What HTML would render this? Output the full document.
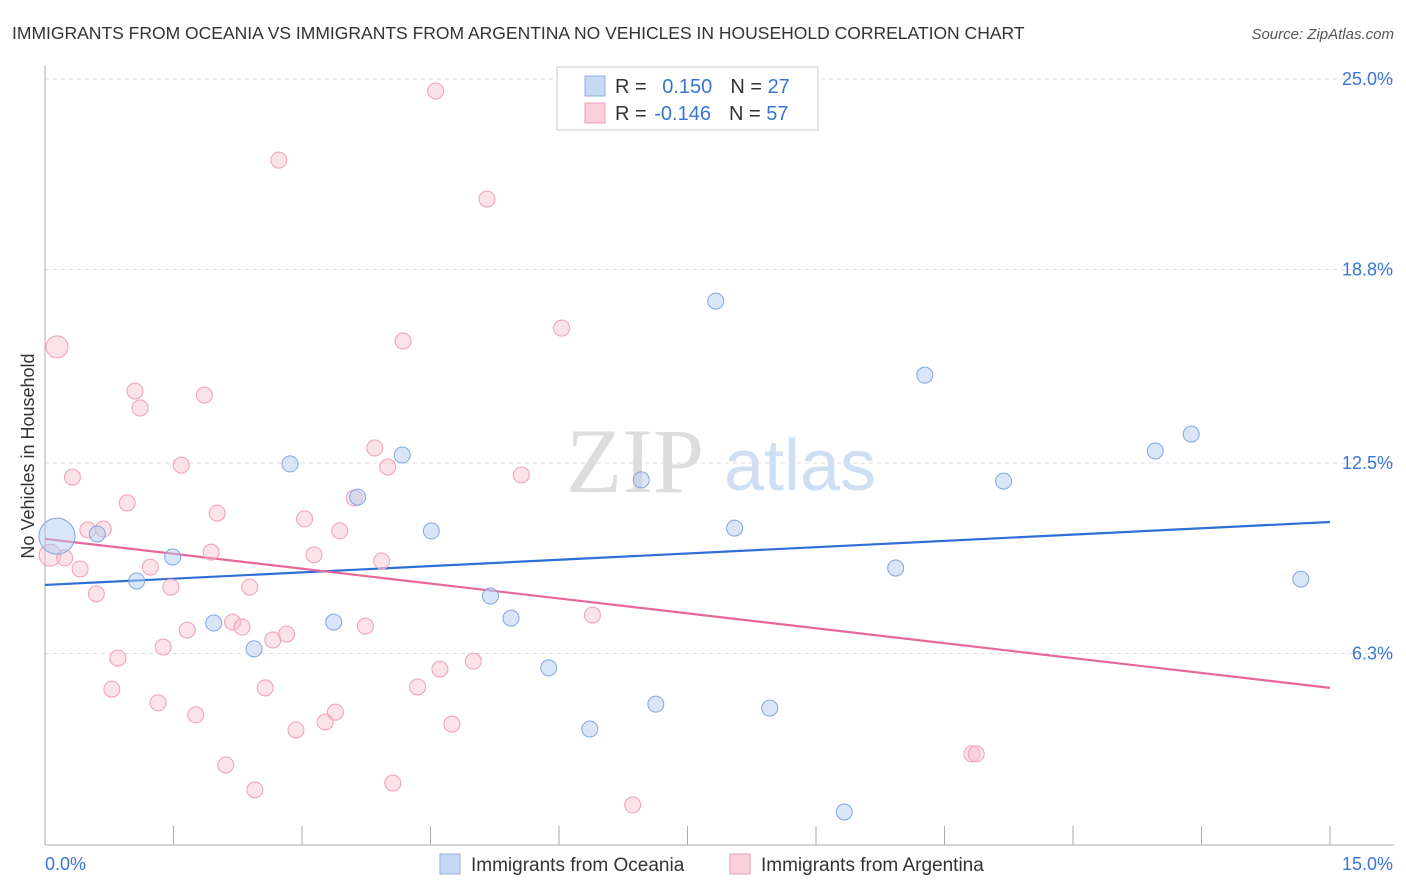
<!DOCTYPE html>
<html><head><meta charset="utf-8"><style>
body{margin:0;background:#fff;font-family:"Liberation Sans",sans-serif}
svg{display:block}
</style></head><body>
<svg width="1406" height="892" id="chart">
<text x="12" y="39" font-size="17.5" fill="#333">IMMIGRANTS FROM OCEANIA VS IMMIGRANTS FROM ARGENTINA NO VEHICLES IN HOUSEHOLD CORRELATION CHART</text>
<text x="1394" y="39" font-size="15" fill="#555" font-style="italic" text-anchor="end">Source: ZipAtlas.com</text>
<text x="0" y="0" transform="translate(34,456) rotate(-90)" font-size="18" fill="#333" text-anchor="middle">No Vehicles in Household</text>
<g><text x="635" y="492" font-size="92" fill="#ddd" font-family="Liberation Serif,serif" text-anchor="middle">ZIP</text><text x="800" y="490" font-size="72" fill="#cfdff3" text-anchor="middle">atlas</text></g>
<g id="grid"></g><g id="axes"></g><g id="trend"></g><g id="pts"></g>
<g>
<rect x="557" y="67" width="261" height="63" fill="#fff" stroke="#ccc"/>
<rect x="585" y="76" width="20" height="20" fill="#c5d9f5" stroke="#8fb0e0"/>
<rect x="585" y="103" width="20" height="20" fill="#fbd0dc" stroke="#ee9fb6"/>
<text x="615" y="93" font-size="20" fill="#333">R = <tspan fill="#3a75d4" dx="10">0.150</tspan><tspan fill="#333" dx="18">N = </tspan><tspan fill="#3a75d4">27</tspan></text>
<text x="615" y="120" font-size="20" fill="#333">R = <tspan fill="#3a75d4" dx="2">-0.146</tspan><tspan fill="#333" dx="18">N = </tspan><tspan fill="#3a75d4">57</tspan></text>
</g>
<g>
<rect x="440" y="854" width="20" height="20" fill="#c5d9f5" stroke="#8fb0e0"/>
<text x="471" y="871" font-size="19" fill="#333">Immigrants from Oceania</text>
<rect x="730" y="854" width="20" height="20" fill="#fbd0dc" stroke="#ee9fb6"/>
<text x="761" y="871" font-size="19" fill="#333">Immigrants from Argentina</text>
</g>
</svg>
<script>
const blueX=[0.14,0.61,1.07,1.49,1.97,2.44,2.86,3.37,3.65,4.17,4.51,5.20,5.44,5.88,6.36,6.96,7.13,7.83,8.05,8.46,9.33,9.93,10.27,11.19,12.96,13.38,14.66];
const blueY=[10.12,10.19,8.66,9.44,7.29,6.45,12.47,7.32,11.39,12.76,10.29,8.17,7.45,5.83,3.84,11.95,4.65,17.77,10.38,4.52,1.14,9.08,15.36,11.91,12.89,13.44,8.72];
const blueSize=[18,8,8,8,8,8,8,8,8,8,8,8,8,8,8,8,8,8,8,8,8,8,8,8,8,8,8];
const pinkX=[0.14,0.06,0.23,0.32,0.41,0.50,0.60,0.68,0.78,0.85,0.96,1.05,1.11,1.23,1.32,1.38,1.47,1.59,1.66,1.76,1.86,1.94,2.01,2.11,2.19,2.30,2.39,2.45,2.57,2.66,2.73,2.82,2.93,3.03,3.14,3.27,3.39,3.44,3.61,3.74,3.85,3.93,4.00,4.06,4.18,4.35,4.56,4.61,4.75,5.00,5.16,5.56,6.03,6.39,6.86,10.82,10.87];
const pinkY=[16.28,9.50,9.41,12.04,9.05,10.32,8.24,10.35,5.14,6.15,11.20,14.84,14.29,9.11,4.69,6.51,8.46,12.43,7.06,4.30,14.71,9.60,10.87,2.67,7.32,7.16,8.46,1.86,5.18,6.74,22.36,6.93,3.81,10.68,9.51,4.07,4.39,10.29,11.36,7.19,12.99,9.31,12.37,2.08,16.47,5.21,24.61,5.79,4.00,6.05,21.09,12.11,16.89,7.55,1.37,3.03,3.03];
const pinkBig=[0,1];
const yTicks=[25.0,18.8,12.5,6.3];
const yTickLabels=["25.0%","18.8%","12.5%","6.3%"];
const xTickVals=[0,1.5,3,4.5,6,7.5,9,10.5,12,13.5,15];
const blueTrend=[8.53,10.58];
const pinkTrend=[10.03,5.18];
const X0=45,X1=1330,Yb=847,pxPerPct=192/6.25;
const sx=v=>X0+(X1-X0)*v/15;
const sy=v=>Yb-v*pxPerPct;
const NS="http://www.w3.org/2000/svg";
function mk(tag,attrs,parent){const e=document.createElementNS(NS,tag);for(const k in attrs)e.setAttribute(k,attrs[k]);document.getElementById(parent).appendChild(e);return e;}
yTicks.forEach((t,i)=>{
 const l=mk('line',{x1:45,x2:1394,y1:sy(t),y2:sy(t),stroke:'#ddd','stroke-dasharray':'4,4'},'grid');
 
 
 const tx=mk('text',{x:1393,y:sy(t)+6,'font-size':18,fill:'#3a75d4','text-anchor':'end'},'grid');
 tx.textContent=yTickLabels[i];
 
 
});
const ax=mk('line',{x1:45,x2:45,y1:66,y2:845,stroke:'#aaa'},'axes');


const bx=mk('line',{x1:45,x2:1394,y1:845,y2:845,stroke:'#aaa'},'axes');


xTickVals.forEach(v=>{
 const t=mk('line',{x1:sx(v),x2:sx(v),y1:826,y2:845,stroke:'#aaa'},'axes');
 
 
});
const xl0=mk('text',{x:45,y:870,'font-size':18,fill:'#3a75d4'},'axes');xl0.textContent='0.0%';


const xl1=mk('text',{x:1393,y:870,'font-size':18,fill:'#3a75d4','text-anchor':'end'},'axes');xl1.textContent='15.0%';


pinkX.forEach((v,i)=>{
 const c=mk('circle',{cx:sx(v),cy:sy(pinkY[i]),r:pinkBig.includes(i)?11:8,fill:'rgba(248,190,207,0.45)',stroke:'#ef9fb7','stroke-width':1},'pts');
 
 
});
blueX.forEach((v,i)=>{
 const c=mk('circle',{cx:sx(v),cy:sy(blueY[i]),r:blueSize[i],fill:'rgba(180,205,242,0.5)',stroke:'#7fa7e0','stroke-width':1},'pts');
 
 
});
const bt=mk('line',{x1:sx(0),x2:sx(15),y1:sy(blueTrend[0]),y2:sy(blueTrend[1]),stroke:'#2d6fd6','stroke-width':2.2},'trend');


const pt=mk('line',{x1:sx(0),x2:sx(15),y1:sy(pinkTrend[0]),y2:sy(pinkTrend[1]),stroke:'#e8679a','stroke-width':2.2},'trend');


</script>
</body></html>
